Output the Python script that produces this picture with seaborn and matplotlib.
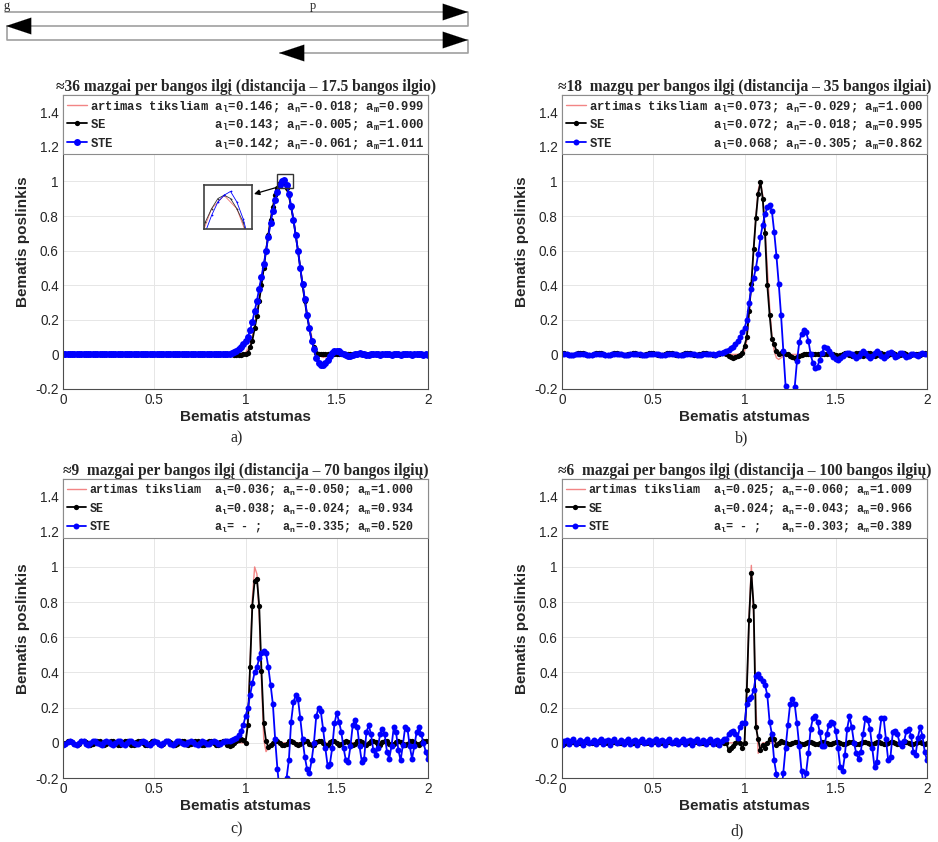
import numpy as np
import matplotlib
matplotlib.use("Agg")
import matplotlib.pyplot as plt
import seaborn as sns
from matplotlib.patches import Rectangle
from matplotlib.font_manager import FontProperties

# node positions (0..2, step 0.0125) shared by the SE / STE solutions
x_nodes = np.linspace(0, 2, 161)

# ---------------- a) ~36 nodes per wavelength
se_a = [
    0, 0, 0, 0, 0, 0, 0, 0, 0, 0, 0, 0, 0, 0, 0, 0, 0, 0, 0, 0,
    0, 0, 0, 0, 0, 0, 0, 0, 0, 0, 0, 0, 0, 0, 0, 0, 0, 0, 0, 0,
    0, 0, 0, 0, 0, 0, 0, 0, 0, 0, 0, 0, 0, 0, 0, 0, 0, 0, 0, 0,
    0, 0, 0, 0, 0, 0, 0, 0, 0, 0, 0, 0, 0, 0, 0, -.005, -.005, -.005, -.005, 0,
    0, .01, .04, .08, .15, .22, .31, .40, .50, .60, .69, .78, .85, .92, .96, .99, 1.0, .99, .96, .92,
    .85, .78, .69, .60, .50, .40, .31, .22, .15, .08, .04, .01, 0, 0, 0, 0, 0, 0, 0, 0,
    0, 0, 0, 0, 0, 0, 0, 0, 0, 0, 0, 0, 0, 0, 0, 0, 0, 0, 0, 0,
    0, 0, 0, 0, 0, 0, 0, 0, 0, 0, 0, 0, 0, 0, 0, 0, 0, 0, 0, 0,
    0,
]
ste_a = [
    0, 0, 0, 0, 0, 0, 0, 0, 0, 0, 0, 0, 0, 0, 0, 0, 0, 0, 0, 0,
    0, 0, 0, 0, 0, 0, 0, 0, 0, 0, 0, 0, 0, 0, 0, 0, 0, 0, 0, 0,
    0, 0, 0, 0, 0, 0, 0, 0, 0, 0, 0, 0, 0, 0, 0, 0, 0, 0, 0, 0,
    0, 0, 0, 0, 0, 0, 0, 0, 0, 0, 0, 0, 0, .005, .01, .015, .02, .03, .04, .06,
    .08, .10, .14, .19, .25, .31, .38, .45, .52, .60, .68, .76, .83, .89, .94, .98, 1.0, 1.011, .98, .93,
    .86, .78, .69, .60, .50, .41, .32, .23, .15, .08, .03, -.02, -.05, -.06, -.061, -.05, -.03, -.01, .01, .02,
    .02, .02, .01, 0, -.005, -.01, -.01, -.005, 0, .005, .01, .005, 0, -.005, -.005, 0, .005, .005, 0, -.005,
    0, .005, .005, 0, -.005, 0, .005, 0, -.005, 0, .005, 0, 0, -.005, 0, .005, .005, 0, -.005, 0,
    -.005,
]
ref_a_x = [0, 0.95, 1.0, 1.025, 1.05, 1.075, 1.1, 1.125, 1.15, 1.175, 1.2, 1.225, 1.25,
           1.275, 1.3, 1.325, 1.35, 1.375, 1.4, 1.425, 1.45, 1.475, 2.0]
ref_a = [0, 0, 0.01, 0.05, 0.16, 0.32, 0.51, 0.70, 0.86, 0.96, 0.999, 0.96, 0.86,
         0.70, 0.51, 0.32, 0.16, 0.05, 0.0, -0.018, -0.01, 0, 0]

# ---------------- b) ~18 nodes per wavelength
se_b = [
    .01, .008, .003, -.002, -.005, -.003, .002, .007, .01, .007, .002, -.003, -.005, -.002, .003, .008, .01, .006, .001, -.004,
    -.005, -.001, .004, .009, .01, .005, 0, -.005, -.004, 0, .005, .01, .009, .004, -.001, -.005, -.003, .001, .006, .01,
    .008, .003, -.002, -.005, -.002, .002, .007, .01, .007, .002, -.003, -.005, -.001, .003, .008, .01, .006, .001, -.004, -.005,
    0, .004, .009, .01, .005, 0, -.005, -.004, .001, .005, .01, .008, 0, -.01, -.015, -.02, -.015, -.01, -.005, .01,
    .05, .10, .25, .41, .61, .79, .93, .995, .90, .70, .40, .23, .09, .06, .02, 0, .01, .01, .005, 0,
    -.01, -.015, -.018, -.015, -.01, -.005, 0, .005, .005, .005, .005, 0, 0, .005, .005, 0, .005, .01, .005, 0,
    -.005, -.01, -.005, .005, .01, .005, -.005, -.01, 0, .01, .01, 0, -.01, -.005, .01, .01, 0, -.01, -.005, .005,
    .01, 0, -.01, -.005, .005, .01, 0, -.01, -.005, .005, .01, 0, -.01, -.005, .005, .005, 0, -.005, .005, .01,
    .005,
]
ste_b = [
    .005, .003, 0, -.003, -.005, -.003, 0, .003, .005, .003, 0, -.003, -.005, -.003, 0, .003, .005, .003, 0, -.003,
    -.005, -.003, 0, .003, .005, .003, 0, -.003, -.005, -.003, 0, .003, .005, .003, 0, -.003, -.005, -.003, 0, .003,
    .005, .003, 0, -.003, -.005, -.003, 0, .003, .005, .003, 0, -.003, -.005, -.003, 0, .003, .005, .003, 0, -.003,
    -.005, -.003, 0, .003, .005, .003, 0, -.003, 0, .01, .01, .015, .02, .025, .035, .045, .06, .08, .10, .13,
    .15, .20, .30, .38, .44, .50, .58, .68, .75, .81, .85, .862, .83, .71, .57, .41, .23, .02, -.18, -.28,
    -.305, -.27, -.19, -.04, .07, .12, .14, .13, .08, 0, -.05, -.08, -.07, -.03, .01, .04, .035, .02, 0, -.015,
    -.025, -.03, -.02, -.01, .005, .01, .01, 0, -.01, -.02, -.01, .01, .02, .01, -.01, -.02, -.01, .01, .02, .01,
    -.01, -.02, -.01, .01, .015, 0, -.015, -.01, .01, .01, -.005, -.015, -.01, 0, .005, -.005, -.01, 0, .01, .005,
    0,
]
ref_b_x = [0, 0.95, 0.975, 1.0, 1.0125, 1.025, 1.0375, 1.05, 1.0625, 1.075, 1.0875, 1.1,
           1.1125, 1.125, 1.1375, 1.15, 1.1625, 1.175, 1.1875, 1.2, 1.225, 1.25, 2.0]
ref_b = [0, 0, 0, 0.02, 0.08, 0.22, 0.40, 0.60, 0.80, 0.95, 1.0, 0.92,
         0.73, 0.50, 0.28, 0.11, 0.02, -0.02, -0.029, -0.02, 0, 0, 0]

# ---------------- c) ~9 nodes per wavelength
se_c = [
    -.01, 0, .01, .012, .005, -.008, -.012, -.004, .008, .012, .006, -.006, -.012, -.006, .006, .012, .008, -.004, -.012, -.008,
    .004, .012, .01, -.002, -.012, -.01, .002, .012, .01, -.002, -.012, -.01, .002, .012, .01, 0, -.01, -.012, 0, .01,
    .012, .004, -.008, -.012, -.004, .008, .012, .006, -.006, -.012, -.006, .006, .012, .008, -.004, -.012, -.008, .004, .012, .01,
    -.002, -.012, -.01, .002, .012, .01, -.002, -.012, -.01, .002, .012, .008, -.01, -.02, -.015, 0, .01, .015, .02, .015,
    0, .10, .43, .78, .92, .934, .78, .41, .11, .01, -.024, -.015, 0, .012, .01, 0, -.01, -.015, -.005, .008,
    .012, .005, -.008, -.014, -.006, .006, .012, .008, -.004, -.012, -.01, .002, .012, .01, -.002, -.012, -.01, .002, .012, .01,
    -.002, -.012, -.008, .004, .012, .006, -.006, -.012, -.004, .008, .012, .004, -.008, -.012, -.002, .01, .012, .002, -.01, -.01,
    .002, .012, .008, -.004, -.012, -.006, .006, .012, .006, -.006, -.012, -.004, .008, .012, .004, -.008, -.012, -.002, .01, .012,
    .01,
]
ste_c = [
    -.01, -.005, .005, .01, .005, -.005, -.01, 0, .01, .008, -.004, -.01, -.002, .008, .01, 0, -.008, -.01, .002, .01,
    .006, -.006, -.01, 0, .01, .008, -.004, -.01, -.002, .008, .01, 0, -.008, -.008, .004, .01, .004, -.006, -.01, 0,
    .01, .006, -.006, -.01, 0, .01, .008, -.004, -.01, -.002, .008, .01, 0, -.008, -.008, .004, .01, .004, -.006, -.01,
    0, .01, .006, -.006, -.008, .002, .01, .004, -.004, -.004, .004, .008, .01, .01, .015, .02, .03, .045, .07, .10,
    .15, .20, .27, .34, .40, .43, .48, .51, .52, .51, .43, .33, .22, .02, -.15, -.28, -.335, -.30, -.20, -.10,
    .12, .23, .27, .25, .14, .02, -.08, -.15, -.17, -.10, 0, .15, .20, .18, .08, -.03, -.13, -.12, -.03, .11,
    .17, .12, .06, -.03, -.10, -.11, -.02, .10, .13, .09, -.02, -.11, -.09, .06, .10, .05, -.04, -.07, -.03, .05,
    .08, .05, -.05, -.09, -.02, .09, .06, -.04, -.10, -.01, .09, .08, -.02, -.09, -.02, .06, .09, .05, 0, -.05,
    -.09,
]
ref_c_x = [0, 0.95, 1.0, 1.0125, 1.025, 1.0375, 1.05, 1.0625, 1.075, 1.0875, 1.1,
           1.1125, 1.125, 1.15, 2.0]
ref_c = [0, 0, 0, 0.12, 0.45, 0.82, 1.0, 0.96, 0.72, 0.35, 0.02, -0.05, -0.03, 0, 0]

# ---------------- d) ~6 nodes per wavelength
se_d = [
    -.01, -.005, 0, .005, .005, .003, 0, -.003, 0, .003, .005, .003, 0, -.003, 0, .003, .005, .003, 0, -.003,
    0, .003, .005, .003, 0, -.003, 0, .003, .005, .003, 0, -.003, 0, .003, .005, .003, 0, -.003, 0, .003,
    .005, .003, 0, -.003, 0, .003, .005, .003, 0, -.003, 0, .003, .005, .003, 0, -.003, 0, .003, .005, .003,
    0, -.003, 0, .003, .005, .003, 0, -.003, -.005, 0, .005, 0, 0, -.04, -.03, -.02, 0, .02, 0, -.03,
    0, .30, .70, .966, .78, .09, .02, -.043, -.01, -.03, 0, .02, .05, .02, -.01, 0, .01, .005, 0, -.005,
    -.005, 0, .005, .005, 0, -.005, -.005, 0, .005, .005, 0, -.005, -.005, 0, .005, .005, 0, -.005, -.005, 0,
    .005, .005, 0, -.005, -.005, 0, .005, .005, 0, -.005, -.005, 0, .005, .005, 0, -.005, -.005, 0, .005, .005,
    0, -.005, -.005, 0, .005, .005, 0, -.005, -.005, 0, .005, .005, 0, -.005, -.005, 0, .005, .005, 0, -.005,
    0,
]
ste_d = [
    -.01, .01, .015, -.005, .01, .02, -.005, .005, .015, -.01, .01, .02, 0, .005, .015, -.005, .01, .02, -.005, .01,
    .015, -.01, .01, .02, 0, .005, .015, -.005, .01, .02, -.005, .01, .015, -.01, .01, .02, 0, .005, .015, -.005,
    .01, .02, -.005, .01, .015, -.01, .01, .02, 0, .005, .015, -.005, .01, .02, -.005, .01, .015, -.01, .01, .02,
    0, .005, .015, -.005, .01, .02, -.005, .01, .015, -.01, .01, .02, .02, .05, .06, .07, .05, .03, .09, .11,
    .11, .22, .25, .26, .30, .38, .389, .37, .35, .33, .27, .12, .05, -.10, -.18, -.26, -.303, -.17, -.03, .10,
    .22, .25, .22, .11, -.02, -.16, -.24, -.17, -.06, .08, .14, .15, .12, .06, -.02, -.02, .05, .10, .12, .11,
    .07, -.03, -.14, -.16, -.07, .08, .15, .09, 0, -.06, -.09, -.05, .05, .14, .13, .08, -.03, -.14, -.11, .04,
    .14, .14, .02, -.10, -.08, .06, .07, .05, 0, -.02, .01, .07, .08, .04, -.05, -.07, .03, .09, .04, -.05,
    -.10,
]
ref_d_x = [0, 0.95, 1.0, 1.0125, 1.025, 1.0375, 1.05, 1.0625, 1.075, 1.0875, 1.1, 2.0]
ref_d = [0, 0, 0, 0.28, 0.72, 1.009, 0.72, 0.20, -0.06, -0.02, 0, 0]

titles = [
    "≈36 mazgai per bangos ilgį (distancija – 17.5 bangos ilgio)",
    "≈18  mazgų per bangos ilgį (distancija – 35 bangos ilgiai)",
    "≈9  mazgai per bangos ilgį (distancija – 70 bangos ilgių)",
    "≈6  mazgai per bangos ilgį (distancija – 100 bangos ilgių)",
]
legend_labels = [
    ["artimas tiksliam a$_l$=0.146; a$_n$=-0.018; a$_m$=0.999",
     "SE               a$_l$=0.143; a$_n$=-0.005; a$_m$=1.000",
     "STE              a$_l$=0.142; a$_n$=-0.061; a$_m$=1.011"],
    ["artimas tiksliam a$_l$=0.073; a$_n$=-0.029; a$_m$=1.000",
     "SE               a$_l$=0.072; a$_n$=-0.018; a$_m$=0.995",
     "STE              a$_l$=0.068; a$_n$=-0.305; a$_m$=0.862"],
    ["artimas tiksliam  a$_l$=0.036; a$_n$=-0.050; a$_m$=1.000",
     "SE                a$_l$=0.038; a$_n$=-0.024; a$_m$=0.934",
     "STE               a$_l$= - ;   a$_n$=-0.335; a$_m$=0.520"],
    ["artimas tiksliam  a$_l$=0.025; a$_n$=-0.060; a$_m$=1.009",
     "SE                a$_l$=0.024; a$_n$=-0.043; a$_m$=0.966",
     "STE               a$_l$= - ;   a$_n$=-0.303; a$_m$=0.389"],
]
panel_tags = ["a)", "b)", "c)", "d)"]

sns.set_theme(style="whitegrid")
plt.rcParams["font.family"] = ["Liberation Sans", "DejaVu Sans"]
plt.rcParams["mathtext.default"] = "regular"

RED, BLACK, BLUE = "#f07070", "#000000", "#0000ff"
W, H = 938, 842

fig = plt.figure(figsize=(W / 100, H / 100), dpi=100)

# arrows of the surrounding document (top strip)
deco = fig.add_axes([0, 0, 1, 1])
deco.set_xlim(0, W)
deco.set_ylim(H, 0)
deco.axis("off")
deco.plot([5, 468, 468, 7, 7, 468, 468, 280], [12, 12, 26, 26, 40, 40, 53, 53],
          color="#a0a0a0", lw=1.2)
for tip, base in [((468, 12), (449, 12)), ((6, 26), (25, 26)),
                  ((468, 40), (449, 40)), ((279, 53), (298, 53))]:
    deco.annotate("", xy=tip, xytext=base,
                  arrowprops=dict(arrowstyle="-|>,head_length=1.2,head_width=0.4",
                                  color="black", lw=0.1, mutation_scale=15,
                                  shrinkA=0, shrinkB=0))
fig.text(3 / W, 1.0, "g", family="Liberation Serif", fontsize=9, va="top")
fig.text(310 / W, 1.0, "p", family="Liberation Serif", fontsize=9, va="top")

positions = [
    [63 / W, 1 - 389 / H, 365 / W, 294 / H],
    [562 / W, 1 - 389 / H, 365 / W, 294 / H],
    [63 / W, 1 - 778 / H, 365 / W, 299 / H],
    [562 / W, 1 - 778 / H, 365 / W, 299 / H],
]
series = [
    (se_a, ste_a, ref_a_x, ref_a),
    (se_b, ste_b, ref_b_x, ref_b),
    (se_c, ste_c, ref_c_x, ref_c),
    (se_d, ste_d, ref_d_x, ref_d),
]
tag_xy = [(237, 438), (742, 438), (237, 829), (737, 831)]
legend_sizes = [8.8, 8.8, 8.4, 8.4]

axes = []
for i, pos in enumerate(positions):
    ax = fig.add_axes(pos)
    se, ste, rx, ry = series[i]
    sns.lineplot(x=rx, y=ry, ax=ax, color=RED, lw=1.0, alpha=0.85,
                 estimator=None, sort=False, legend=False)
    sns.lineplot(x=x_nodes, y=se, ax=ax, color=BLACK, lw=1.3, marker="o",
                 markersize=3.8, markeredgewidth=0, estimator=None, sort=False, legend=False)
    sns.lineplot(x=x_nodes, y=ste, ax=ax, color=BLUE, lw=1.3, marker="o",
                 markersize=5.0 if i == 0 else 4.3, markeredgewidth=0,
                 estimator=None, sort=False, legend=False)

    ax.set_xlim(0, 2)
    ax.set_ylim(-0.2, 1.5)
    ax.set_xticks([0, 0.5, 1, 1.5, 2])
    ax.set_xticklabels(["0", "0.5", "1", "1.5", "2"])
    ax.set_yticks([-0.2, 0, 0.2, 0.4, 0.6, 0.8, 1, 1.2, 1.4])
    ax.set_yticklabels(["-0.2", "0", "0.2", "0.4", "0.6", "0.8", "1", "1.2", "1.4"])
    ax.tick_params(labelsize=9.8, colors="#262626", length=3, direction="in", pad=3)
    ax.grid(True, color="#e6e6e6", lw=0.7)
    ax.set_axisbelow(True)
    for s in ax.spines.values():
        s.set_visible(True)
        s.set_color("#4d4d4d")
        s.set_linewidth(0.8)

    ax.set_xlabel("Bematis atstumas", fontsize=11, fontweight="bold",
                  color="#262626", labelpad=2)
    ax.set_ylabel("Bematis poslinkis", fontsize=11, fontweight="bold",
                  color="#262626", labelpad=4)
    ax.set_title(titles[i], family="Liberation Serif", fontweight="bold",
                 fontsize=11.2, pad=3)

    # MATLAB-like legend spanning the whole top of the axes
    legend_font = FontProperties(family="Liberation Mono", weight="bold",
                                 size=legend_sizes[i])
    handles = ax.get_lines()[:3]
    leg = ax.legend(handles, legend_labels[i], loc="upper left",
                    bbox_to_anchor=(0, 1, 1, 0), mode="expand",
                    borderaxespad=0, prop=legend_font,
                    handlelength=1.7, handletextpad=0.2,
                    labelspacing=0.3, borderpad=0.3, frameon=True,
                    fancybox=False, framealpha=1, edgecolor="#8c8c8c")
    leg.get_frame().set_linewidth(0.8)

    fig.text(tag_xy[i][0] / W, 1 - tag_xy[i][1] / H, panel_tags[i],
             family="Liberation Serif", fontsize=11.5, ha="center", va="center")
    axes.append(ax)

# zoom box around the peak of panel a) and its magnified copy
ax_a = axes[0]
ax_a.add_patch(Rectangle((1.173, 0.963), 0.087, 0.08, fill=False,
                         edgecolor="#333333", lw=1.0, zorder=5))
ax_a.annotate("", xy=(254 / W, 1 - 194 / H), xycoords="figure fraction",
              xytext=(1.178, 0.968), textcoords="data",
              arrowprops=dict(arrowstyle="-|>", color="black", lw=0.9,
                              mutation_scale=8, shrinkA=0, shrinkB=0))
ins = fig.add_axes([204 / W, 1 - 229 / H, 48 / W, 44 / H])
sns.lineplot(x=ref_a_x, y=ref_a, ax=ins, color=RED, lw=0.6, estimator=None,
             sort=False, legend=False)
sns.lineplot(x=x_nodes, y=se_a, ax=ins, color="#333333", lw=0.6, marker="o",
             markersize=1.3, markeredgewidth=0, estimator=None, sort=False, legend=False)
sns.lineplot(x=x_nodes, y=ste_a, ax=ins, color=BLUE, lw=0.6, marker="o",
             markersize=1.3, markeredgewidth=0, estimator=None, sort=False, legend=False)
ins.set_xlim(1.16, 1.255)
ins.set_ylim(0.90, 1.03)
ins.set_xticks([])
ins.set_yticks([])
ins.set_xlabel("")
ins.set_ylabel("")
ins.grid(False)
ins.set_facecolor("white")
for s in ins.spines.values():
    s.set_visible(True)
    s.set_color("#404040")
    s.set_linewidth(1.2)

fig.savefig("out.png", dpi=100)
